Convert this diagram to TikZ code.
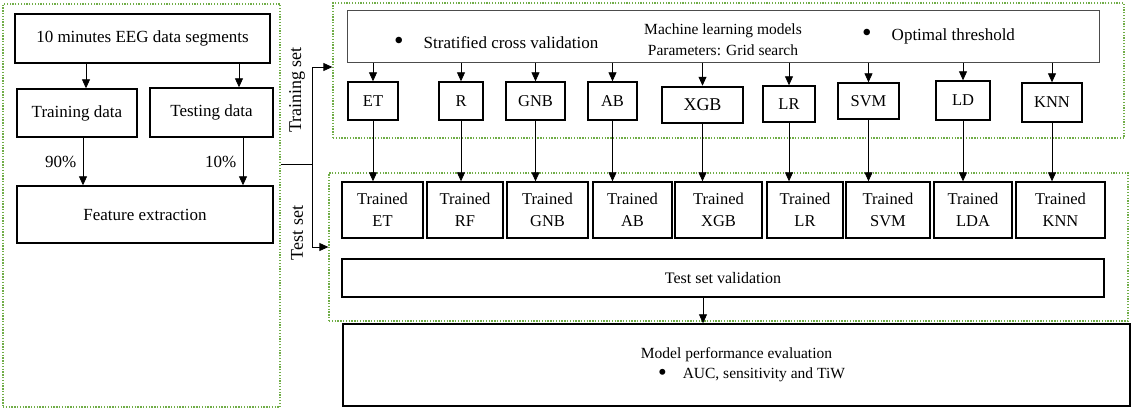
\documentclass[tikz,border=0pt]{standalone}
\usepackage{fontspec}
\setmainfont{Liberation Serif}
\usetikzlibrary{arrows.meta,positioning}
\definecolor{grpgreen}{RGB}{112,173,71}
\newcommand{\bigbul}{\raisebox{-1.6pt}{\scalebox{1.6}{\textbullet}}}

\begin{document}
\begin{tikzpicture}[x=1pt,y=-1pt,
  box/.style={draw,line width=1.4pt,inner sep=0pt,align=center,font=\fontsize{17}{20}\selectfont},
  grp/.style={draw=grpgreen,line width=1.3pt,dash pattern=on 1.3pt off 1.5pt,inner sep=0pt},
  model/.style={box,font=\fontsize{16.5}{19}\selectfont},
  trained/.style={box,font=\fontsize{16.5}{22}\selectfont},
  arr/.style={-{Triangle[length=9pt,width=8pt]},line width=0.8pt},
  ln/.style={line width=0.8pt}]
\useasboundingbox (0,0) rectangle (1132,408);

% Data preparation
\node[grp,minimum width=277,minimum height=403] (leftgrp) at (141.5,205.5) {};
\node[box,minimum width=255,minimum height=49] (eeg) at (142.5,38.5) {10 minutes EEG data segments};
\node[box,minimum width=120,minimum height=48] (trn) at (77,113) {Training data};
\node[box,minimum width=123,minimum height=49] (tst) at (211.5,112.5) {Testing data};
\node[box,minimum width=256,minimum height=57] (fex) at (145,214.5) {Feature extraction};

\draw[arr] ([xshift=9pt]trn.north |- eeg.south) -- ([xshift=9pt]trn.north);
\draw[arr] ([xshift=27.5pt]tst.north |- eeg.south) -- ([xshift=27.5pt]tst.north);
\draw[arr] ([xshift=6pt]trn.south) -- ([xshift=6pt]trn.south |- fex.north)
  node[midway,left=3pt,font=\fontsize{17}{20}\selectfont] (p90) {90\%};
\draw[arr] ([xshift=31.5pt]tst.south) -- ([xshift=31.5pt]tst.south |- fex.north)
  node[midway,left=3pt,font=\fontsize{17}{20}\selectfont] (p10) {10\%};

% Training set
\node[grp,minimum width=791,minimum height=135] (topgrp) at (728.5,70.5) {};
\node[box,draw=black!70,line width=1pt,minimum width=752,minimum height=52] (mlbox) at (723,36) {};
\node[anchor=west,inner sep=0pt,font=\fontsize{17}{20}\selectfont] (cvtxt) at (394,43)
  {\bigbul\hspace{20pt}Stratified cross validation};
\node[align=center,inner sep=0pt,font=\fontsize{15.5}{21}\selectfont] (mltxt) at (723,40)
  {Machine learning models\\Parameters: Grid search};
\node[anchor=west,inner sep=0pt,font=\fontsize{17}{20}\selectfont] (thrtxt) at (862,36)
  {\bigbul\hspace{20pt}Optimal threshold};

\foreach \nm/\cx/\cy/\w/\h/\txt in {et/373/101/50/38/ET, rf/461/101/44/38/R,
    gnb/535.5/101/59/38/GNB, ab/612.5/101/49/38/AB, lr/789/104/52/36/LR,
    svm/868.5/101/61/36/SVM, ld/963/100.5/54/39/LD, knn/1052/102.5/60/39/KNN}
  \node[model,minimum width=\w,minimum height=\h] (\nm) at (\cx,\cy) {\txt};
\node[model,line width=2.5pt,font=\fontsize{18}{20}\selectfont,minimum width=81,minimum height=36] (xgb) at (702.5,105) {XGB};

% Test set
\node[grp,minimum width=799,minimum height=148] (testgrp) at (728.5,247) {};
\foreach \nm/\cx/\w/\txt in {et/382.5/81/ET, rf/465/76/RF, gnb/547.5/81/GNB,
    ab/632.5/79/AB, xgb/718.5/87/XGB, lr/805/76/LR, svm/888/84/SVM,
    ld/973/78/LDA, knn/1060.5/89/KNN}
  \node[trained,minimum width=\w,minimum height=56] (t\nm) at (\cx,210) {Trained\\\txt};
\node[box,font=\fontsize{16}{19}\selectfont,minimum width=762,minimum height=38] (tsv) at (723,278) {Test set validation};

\foreach \nm in {et,rf,gnb,ab,xgb,lr,svm,ld,knn} {
  \draw[arr] (\nm.north |- mlbox.south) -- (\nm.north);
  \draw[arr] (\nm.south) -- (\nm.south |- t\nm.north);
}

% Evaluation
\node[box,font=\fontsize{15.5}{20}\selectfont,minimum width=787,minimum height=82] (mpe) at (736.5,365)
  {Model performance evaluation\\\hspace*{30pt}\bigbul\hspace{16pt}AUC, sensitivity and TiW};
\draw[arr] ([xshift=-20pt]tsv.south) -- ([xshift=-20pt]tsv.south |- mpe.north);

% Split into training and test set
\coordinate (split) at (312,164);
\draw[ln] (leftgrp.east |- split) -- (split);
\draw[arr] (split) |- ([yshift=3.5pt]topgrp.west);
\draw[arr] (split) |- (testgrp.west);
\node[rotate=90,font=\fontsize{18}{20}\selectfont] (trnset) at (297,90) {Training set};
\node[rotate=90,font=\fontsize{18}{20}\selectfont] (tstset) at (297,233) {Test set};
\end{tikzpicture}
\end{document}
